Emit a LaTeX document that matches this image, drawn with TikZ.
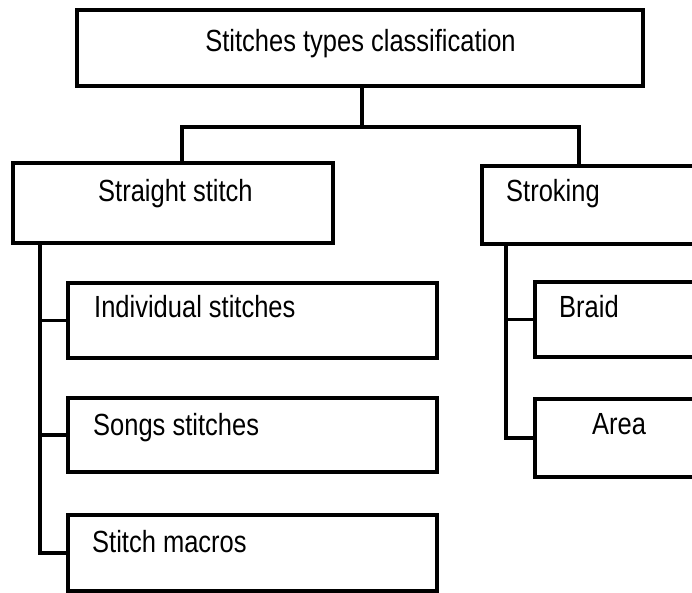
\documentclass[tikz,border=0pt]{standalone}
\usepackage{fontspec}
\setmainfont{Liberation Sans}
\newcommand{\tallt}[1]{\scalebox{1}[1.2]{#1}}
\tikzset{
  box/.style={draw=black, line width=3.2pt, rectangle, inner sep=0pt, fill=none},
  lbl/.style={inner sep=0pt, font=\fontsize{25.5}{30}\selectfont, text=black},
  conn/.style={draw=black, line width=3.2pt}
}
\begin{document}
\begin{tikzpicture}[x=1pt, y=-1pt]
\useasboundingbox (0,0) rectangle (692,593);
\fill[white] (0,0) rectangle (692,593);
\clip (0,0) rectangle (692,593);
% boxes
\node[box, minimum width=566pt, minimum height=76pt] (top) at (360,48) {};
\node[box, minimum width=320pt, minimum height=80pt] (ss) at (173,203) {};
\node[box, minimum width=278pt, minimum height=78pt] (st) at (621,205) {};
\node[box, minimum width=369pt, minimum height=75pt] (ind) at (252.5,320.5) {};
\node[box, minimum width=369pt, minimum height=74pt] (songs) at (252.5,435) {};
\node[box, minimum width=369pt, minimum height=76pt] (mac) at (252.5,553) {};
\node[box, minimum width=225pt, minimum height=75pt] (braid) at (647.5,319.5) {};
\node[box, minimum width=225pt, minimum height=78pt] (area) at (647.5,438) {};
% labels
\node[lbl, anchor=base] (tTop) at (360.5,52) {\tallt{Stitches types classification}};
\node[lbl, anchor=base west] (tSS) at (98,202) {\tallt{Straight stitch}};
\node[lbl, anchor=base west] (tSt) at (506,202) {\tallt{Stroking}};
\node[lbl, anchor=base west] (tInd) at (94,317) {\tallt{Individual stitches}};
\node[lbl, anchor=base west] (tSongs) at (93,435) {\tallt{Songs stitches}};
\node[lbl, anchor=base west] (tMac) at (92,552) {\tallt{Stitch macros}};
\node[lbl, anchor=base west] (tBraid) at (559,317) {\tallt{Braid}};
\node[lbl, anchor=base west] (tArea) at (592,434) {\tallt{Area}};
% connectors
\coordinate (jl) at (182,127);
\coordinate (jr) at (579,127);
\coordinate (lx) at (40,0);
\coordinate (rx) at (506,0);
\draw[conn] ([xshift=2pt]top.south) -- ([xshift=2pt]top.south |- jl);
\draw[conn, line cap=rect] (jl) -- (jr);
\draw[conn] (jl) -- (jl |- ss.north);
\draw[conn] (jr) -- (jr |- st.north);
\draw[conn] (lx |- ss.south) |- (mac.west);
\draw[conn] (lx |- ind.west) -- (ind.west);
\draw[conn] (lx |- songs.west) -- (songs.west);
\draw[conn] (rx |- st.south) |- (area.west);
\draw[conn] (rx |- braid.west) -- (braid.west);
\end{tikzpicture}
\end{document}
